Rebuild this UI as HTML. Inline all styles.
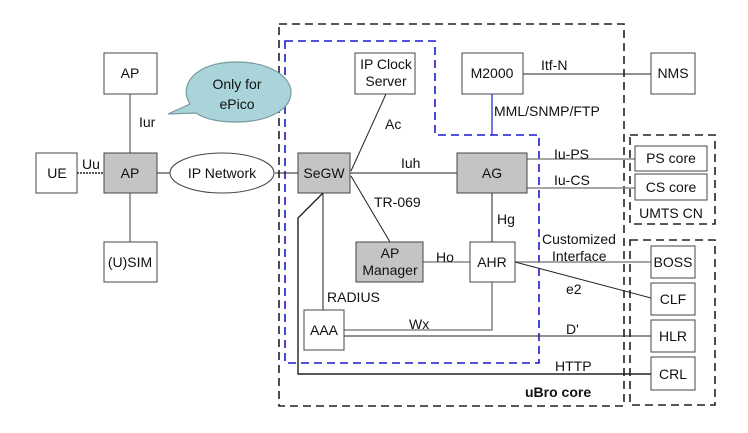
<!DOCTYPE html>
<html><head><meta charset="utf-8"><style>
html,body{margin:0;padding:0;background:#fff;}
svg{display:block;}
text{font-family:"Liberation Sans",Arial,sans-serif;font-size:14px;fill:#111;}
</style></head><body>
<svg width="748" height="433" viewBox="0 0 748 433" xmlns="http://www.w3.org/2000/svg">
<rect width="748" height="433" fill="#fff"/>
<rect x="279" y="24" width="345" height="382" fill="none" stroke="#222" stroke-width="1.6" stroke-dasharray="8,5"/>
<path d="M285,41 H435 V135 H539 V363 H285 Z" fill="none" stroke="#1a1acc" stroke-width="1.6" stroke-dasharray="8,5"/>
<rect x="630" y="135" width="85" height="89" fill="none" stroke="#222" stroke-width="1.6" stroke-dasharray="8,5"/>
<rect x="630" y="240" width="85" height="165" fill="none" stroke="#222" stroke-width="1.6" stroke-dasharray="8,5"/>

<g stroke="#888" stroke-width="1.6" fill="none">
<line x1="130" y1="94" x2="130" y2="153"/>
<line x1="130" y1="193" x2="130" y2="242"/>
<line x1="527" y1="159" x2="635" y2="159"/>
<line x1="527" y1="188" x2="635" y2="188"/>
<line x1="423" y1="262" x2="470" y2="262"/>
<line x1="515" y1="262" x2="651" y2="262"/>
<polyline points="344,330 492,330 492,282"/>
</g>
<g stroke="#222" stroke-width="1" fill="none">
<line x1="157" y1="173" x2="170" y2="173"/>
<line x1="275" y1="173" x2="298" y2="173"/>
<line x1="350" y1="173" x2="457" y2="173"/>
<line x1="351" y1="171" x2="386" y2="94"/>
<line x1="351" y1="176" x2="390" y2="242"/>
<line x1="323" y1="193" x2="323" y2="310"/>
<line x1="492" y1="193" x2="492" y2="242"/>
<line x1="523" y1="74" x2="651" y2="74"/>
<line x1="515" y1="262" x2="651" y2="298"/>
<line x1="344" y1="336" x2="651" y2="336"/>
</g>
<polyline points="323,193 298,218 298,374 651,374" fill="none" stroke="#222" stroke-width="1.4"/>
<line x1="492" y1="94" x2="492" y2="135" stroke="#1a1acc" stroke-width="1.2"/>
<line x1="77" y1="173" x2="104" y2="173" stroke="#222" stroke-width="1.5" stroke-dasharray="2,1"/>

<path d="M168,114 L190,104 C178,85 195,62 236,62 C272,62 291,78 291,92 C291,110 268,122 236,122 C218,122 205,119 196,113 Z" fill="#a9d4da" stroke="#7a9aa0" stroke-width="1.2"/>
<text x="237" y="89" text-anchor="middle">Only for</text>
<text x="237" y="109" text-anchor="middle">ePico</text>

<g stroke="#444" stroke-width="1">
<rect x="104" y="53" width="53" height="41" fill="#fff"/>
<rect x="36" y="153" width="41" height="40" fill="#fff"/>
<rect x="104" y="153" width="53" height="40" fill="#c4c4c4"/>
<rect x="104" y="242" width="53" height="40" fill="#fff"/>
<ellipse cx="222" cy="173" rx="52" ry="20" fill="#fff"/>
<rect x="298" y="153" width="52" height="40" fill="#c4c4c4"/>
<rect x="355" y="53" width="60" height="41" fill="#fff"/>
<rect x="356" y="242" width="67" height="40" fill="#c4c4c4"/>
<rect x="304" y="310" width="40" height="40" fill="#fff"/>
<rect x="462" y="53" width="61" height="41" fill="#fff"/>
<rect x="651" y="53" width="44" height="41" fill="#fff"/>
<rect x="457" y="153" width="70" height="40" fill="#c4c4c4"/>
<rect x="470" y="242" width="45" height="40" fill="#fff"/>
<rect x="635" y="146" width="72" height="25" fill="#fff"/>
<rect x="635" y="174" width="72" height="26" fill="#fff"/>
<rect x="651" y="246" width="44" height="32" fill="#fff"/>
<rect x="651" y="283" width="44" height="32" fill="#fff"/>
<rect x="651" y="320" width="44" height="32" fill="#fff"/>
<rect x="651" y="357" width="44" height="33" fill="#fff"/>
</g>

<g text-anchor="middle">
<text x="130" y="78">AP</text>
<text x="57" y="178">UE</text>
<text x="130" y="178">AP</text>
<text x="130" y="267">(U)SIM</text>
<text x="222" y="178">IP Network</text>
<text x="324" y="178">SeGW</text>
<text x="386" y="69">IP Clock</text>
<text x="386" y="86">Server</text>
<text x="390" y="258">AP</text>
<text x="390" y="275">Manager</text>
<text x="324" y="335">AAA</text>
<text x="492" y="78">M2000</text>
<text x="673" y="78">NMS</text>
<text x="492" y="178">AG</text>
<text x="492" y="267">AHR</text>
<text x="671" y="163">PS core</text>
<text x="671" y="192">CS core</text>
<text x="671" y="218">UMTS CN</text>
<text x="673" y="267">BOSS</text>
<text x="673" y="304">CLF</text>
<text x="673" y="341">HLR</text>
<text x="673" y="379">CRL</text>
</g>

<text x="139" y="127">Iur</text>
<text x="82" y="169" font-size="13">Uu</text>
<text x="385" y="129">Ac</text>
<text x="401" y="168">Iuh</text>
<text x="374" y="207">TR-069</text>
<text x="327" y="302">RADIUS</text>
<text x="541" y="70">Itf-N</text>
<text x="494" y="116">MML/SNMP/FTP</text>
<text x="554" y="159">Iu-PS</text>
<text x="554" y="185">Iu-CS</text>
<text x="497" y="224">Hg</text>
<text x="436" y="262">Ho</text>
<text x="542" y="244">Customized</text>
<text x="552" y="261">Interface</text>
<text x="566" y="294">e2</text>
<text x="409" y="329">Wx</text>
<text x="566" y="334">D'</text>
<text x="555" y="371">HTTP</text>
<text x="525" y="397" font-weight="bold" font-size="15">uBro core</text>
</svg>
</body></html>
